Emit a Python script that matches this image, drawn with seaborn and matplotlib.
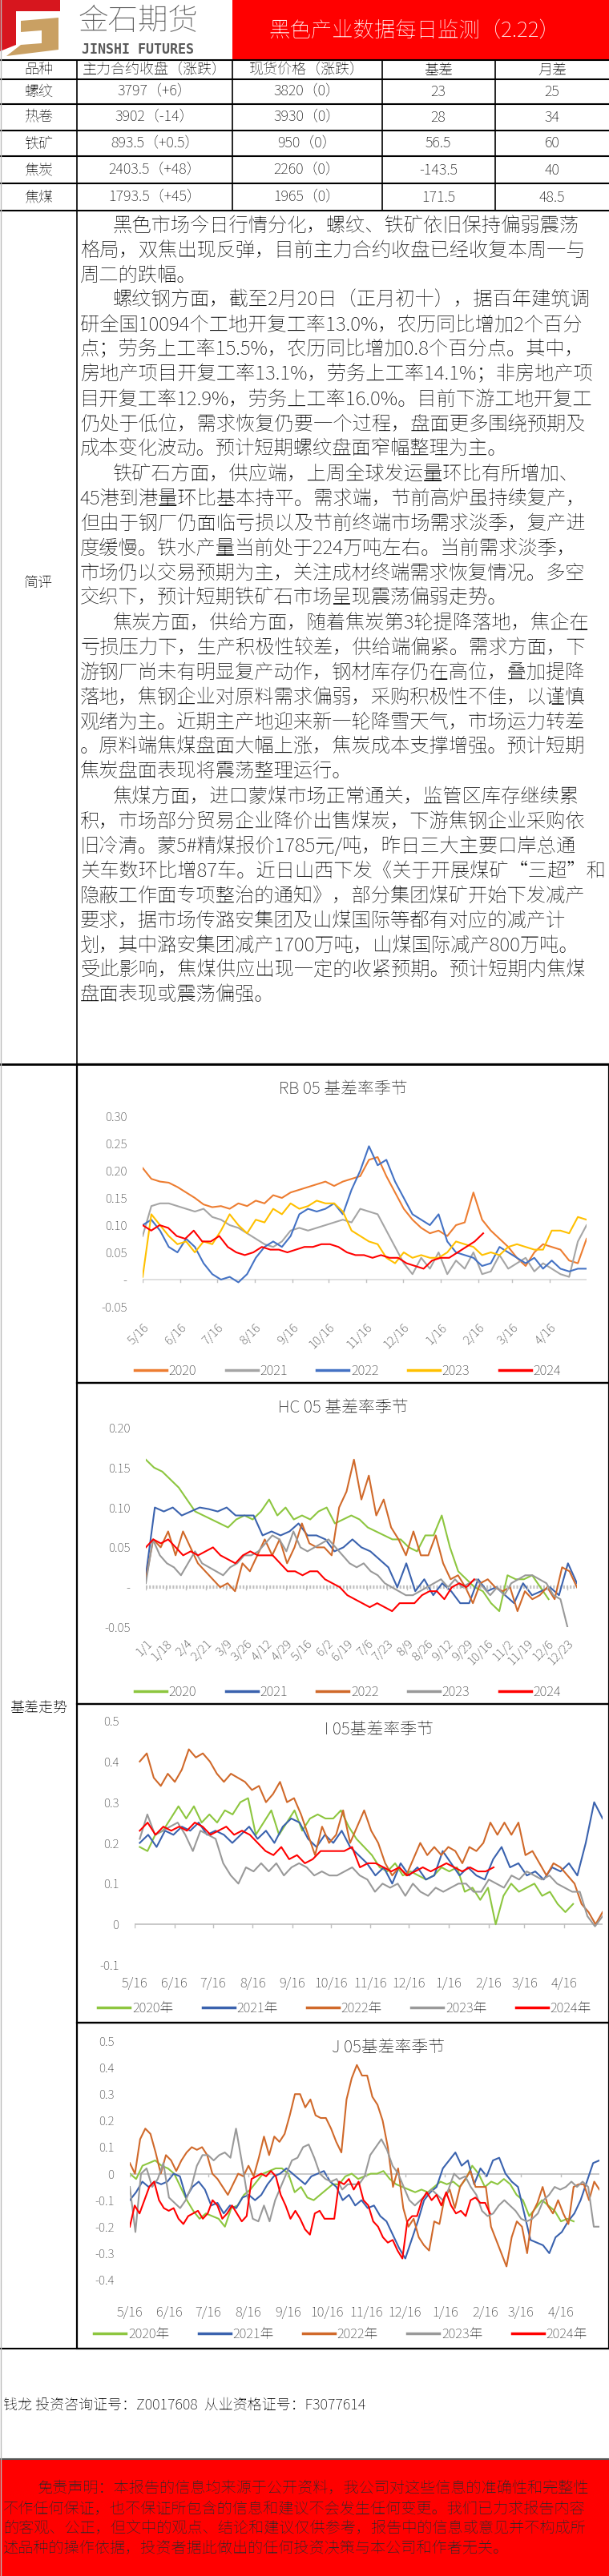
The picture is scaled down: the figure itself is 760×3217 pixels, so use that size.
import numpy as np
import pandas as pd
import matplotlib
matplotlib.use("Agg")
import matplotlib.pyplot as plt
from matplotlib import font_manager
from matplotlib.lines import Line2D
from matplotlib.patches import Rectangle, Polygon
import seaborn as sns

# подобрать шрифт с китайскими иероглифами
_names = {f.name for f in font_manager.fontManager.ttflist}
_cjk = [n for n in ["Noto Sans CJK SC", "Noto Sans SC", "Noto Sans CJK JP", "Noto Sans CJK TC",
                    "Noto Sans CJK KR"] if n in _names]
_cjk += sorted(n for n in _names if "CJK" in n and n not in _cjk)
plt.rcParams["font.family"] = _cjk[:1] + ["DejaVu Sans"]
plt.rcParams["axes.unicode_minus"] = False

# ---------------- данные ----------------
title = "黑色产业数据每日监测（2.22）"
table_header = ["品种", "主力合约收盘（涨跌）", "现货价格（涨跌）", "基差", "月差"]
products = ["螺纹", "热卷", "铁矿", "焦炭", "焦煤"]
futures_close = ["3797（+6）", "3902（-14）", "893.5（+0.5）", "2403.5（+48）", "1793.5（+45）"]
spot_price = ["3820（0）", "3930（0）", "950（0）", "2260（0）", "1965（0）"]
basis = ["23", "28", "56.5", "-143.5", "171.5"]
month_spread = ["25", "34", "60", "40", "48.5"]

comment_lines = [
    (1, "黑色市场今日行情分化，螺纹、铁矿依旧保持偏弱震荡"),
    (0, "格局，双焦出现反弹，目前主力合约收盘已经收复本周一与"),
    (0, "周二的跌幅。"),
    (1, "螺纹钢方面，截至2月20日（正月初十），据百年建筑调"),
    (0, "研全国10094个工地开复工率13.0%，农历同比增加2个百分"),
    (0, "点；劳务上工率15.5%，农历同比增加0.8个百分点。其中，"),
    (0, "房地产项目开复工率13.1%，劳务上工率14.1%；非房地产项"),
    (0, "目开复工率12.9%，劳务上工率16.0%。目前下游工地开复工"),
    (0, "仍处于低位，需求恢复仍要一个过程，盘面更多围绕预期及"),
    (0, "成本变化波动。预计短期螺纹盘面窄幅整理为主。"),
    (1, "铁矿石方面，供应端，上周全球发运量环比有所增加、"),
    (0, "45港到港量环比基本持平。需求端，节前高炉虽持续复产，"),
    (0, "但由于钢厂仍面临亏损以及节前终端市场需求淡季，复产进"),
    (0, "度缓慢。铁水产量当前处于224万吨左右。当前需求淡季，"),
    (0, "市场仍以交易预期为主，关注成材终端需求恢复情况。多空"),
    (0, "交织下，预计短期铁矿石市场呈现震荡偏弱走势。"),
    (1, "焦炭方面，供给方面，随着焦炭第3轮提降落地，焦企在"),
    (0, "亏损压力下，生产积极性较差，供给端偏紧。需求方面，下"),
    (0, "游钢厂尚未有明显复产动作，钢材库存仍在高位，叠加提降"),
    (0, "落地，焦钢企业对原料需求偏弱，采购积极性不佳，以谨慎"),
    (0, "观绪为主。近期主产地迎来新一轮降雪天气，市场运力转差"),
    (0, "。原料端焦煤盘面大幅上涨，焦炭成本支撑增强。预计短期"),
    (0, "焦炭盘面表现将震荡整理运行。"),
    (1, "焦煤方面，进口蒙煤市场正常通关，监管区库存继续累"),
    (0, "积，市场部分贸易企业降价出售煤炭，下游焦钢企业采购依"),
    (0, "旧冷清。蒙5#精煤报价1785元/吨，昨日三大主要口岸总通"),
    (0, "关车数环比增87车。近日山西下发《关于开展煤矿“三超”和"),
    (0, "隐蔽工作面专项整治的通知》，部分集团煤矿开始下发减产"),
    (0, "要求，据市场传潞安集团及山煤国际等都有对应的减产计"),
    (0, "划，其中潞安集团减产1700万吨，山煤国际减产800万吨。"),
    (0, "受此影响，焦煤供应出现一定的收紧预期。预计短期内焦煤"),
    (0, "盘面表现或震荡偏强。"),
]

disclaimer_lines = [
    "免责声明：本报告的信息均来源于公开资料，我公司对这些信息的准确性和完整性",
    "不作任何保证，也不保证所包含的信息和建议不会发生任何变更。我们已力求报告内容",
    "的客观、公正，但文中的观点、结论和建议仅供参考，报告中的信息或意见并不构成所",
    "述品种的操作依据，投资者据此做出的任何投资决策与本公司和作者无关。",
]
author_line = "钱龙 投资咨询证号：Z0017608  从业资格证号：F3077614"

years = ["2020", "2021", "2022", "2023", "2024"]

# месячные метки (день от 5/16)
month_labels = ["5/16", "6/16", "7/16", "8/16", "9/16", "10/16", "11/16", "12/16",
                "1/16", "2/16", "3/16", "4/16"]
month_days = [0, 31, 61, 92, 123, 153, 184, 214, 245, 276, 304, 335]
hc_labels = ["1/1", "1/18", "2/4", "2/21", "3/9", "3/26", "4/12", "4/29", "5/16", "6/2",
             "6/19", "7/6", "7/23", "8/9", "8/26", "9/12", "9/29", "10/16", "11/2",
             "11/19", "12/6", "12/23"]
hc_days = list(range(0, 358, 17))

# RB 05 基差率
rb_2020 = [0.205, 0.185, 0.18, 0.178, 0.17, 0.16, 0.15, 0.138, 0.133, 0.135, 0.13, 0.14, 0.135,
           0.145, 0.14, 0.155, 0.15, 0.16, 0.165, 0.17, 0.175, 0.18, 0.172, 0.18, 0.185, 0.19,
           0.22, 0.225, 0.19, 0.16, 0.13, 0.11, 0.095, 0.085, 0.09, 0.08, 0.1, 0.105, 0.16, 0.11,
           0.09, 0.075, 0.06, 0.04, 0.025, 0.05, 0.065, 0.06, 0.055, 0.035, 0.03, 0.075]
rb_2021 = [0.08, 0.135, 0.14, 0.14, 0.135, 0.13, 0.125, 0.13, 0.115, 0.11, 0.1, 0.095, 0.085,
           0.075, 0.065, 0.06, 0.07, 0.09, 0.095, 0.09, 0.095, 0.1, 0.105, 0.11, 0.105, 0.13,
           0.125, 0.12, 0.09, 0.06, 0.03, 0.01, 0.04, 0.02, 0.05, 0.01, 0.035, 0.02, 0.05, 0.01,
           0.015, 0.045, 0.02, 0.03, 0.04, 0.015, 0.03, 0.02, 0.01, 0.005, 0.07, 0.1]
rb_2022 = [0.1, 0.11, 0.09, 0.06, 0.05, 0.075, 0.06, 0.03, 0.01, 0.0, 0.005, -0.005, 0.01, 0.04,
           0.06, 0.07, 0.06, 0.08, 0.12, 0.13, 0.125, 0.13, 0.14, 0.12, 0.165, 0.2, 0.245, 0.21,
           0.22, 0.18, 0.15, 0.12, 0.11, 0.1, 0.12, 0.07, 0.05, 0.045, 0.04, 0.025, 0.03, 0.06,
           0.05, 0.04, 0.03, 0.04, 0.02, 0.035, 0.02, 0.015, 0.02, 0.02]
rb_2023 = [0.005, 0.12, 0.1, 0.08, 0.065, 0.07, 0.05, 0.07, 0.065, 0.09, 0.12, 0.1, 0.085, 0.11,
           0.105, 0.13, 0.12, 0.14, 0.13, 0.135, 0.145, 0.14, 0.14, 0.125, 0.09, 0.08, 0.07,
           0.065, 0.04, 0.03, 0.05, 0.04, 0.045, 0.04, 0.04, 0.05, 0.07, 0.065, 0.06, 0.045,
           0.05, 0.045, 0.06, 0.065, 0.06, 0.055, 0.055, 0.09, 0.09, 0.085, 0.115, 0.11]
rb_2024 = [0.1, 0.09, 0.1, 0.095, 0.08, 0.075, 0.09, 0.07, 0.07, 0.08, 0.06, 0.05, 0.045, 0.05,
           0.06, 0.055, 0.055, 0.05, 0.055, 0.06, 0.06, 0.065, 0.065, 0.06, 0.05, 0.045, 0.045,
           0.04, 0.045, 0.04, 0.04, 0.03, 0.025, 0.02, 0.035, 0.04, 0.04, 0.05, 0.06, 0.07, 0.085]
rb_span = [(0, 365), (0, 365), (0, 365), (0, 365), (0, 280)]

# HC 05 基差率
hc_2020 = [0.16, 0.15, 0.145, 0.135, 0.125, 0.11, 0.095, 0.09, 0.085, 0.08, 0.075, 0.085, 0.09,
           0.085, 0.095, 0.11, 0.09, 0.1, 0.085, 0.09, 0.085, 0.095, 0.1, 0.08, 0.085, 0.09,
           0.085, 0.075, 0.07, 0.065, 0.06, 0.06, 0.05, 0.045, 0.065, 0.065, 0.09, 0.05, 0.02,
           0.01, 0.0, -0.005, -0.02, -0.03, 0.015, 0.01, 0.01, 0.015, 0.0, -0.015]
hc_2021 = [0.015, 0.1, 0.095, 0.1, 0.09, 0.095, 0.1, 0.098, 0.095, 0.1, 0.09, 0.09, 0.09, 0.065,
           0.07, 0.065, 0.07, 0.08, 0.065, 0.065, 0.06, 0.045, 0.05, 0.06, 0.05, 0.045, 0.035,
           0.025, 0.0, 0.03, -0.005, 0.01, -0.01, 0.005, -0.005, -0.02, -0.02, 0.01, -0.005, 0.0,
           -0.01, -0.02, 0.005, -0.01, -0.005, 0.0, -0.01, 0.03, 0.005]
hc_2022 = [0.01, 0.06, 0.05, 0.07, 0.04, 0.07, 0.05, 0.03, 0.02, 0.01, 0.0, 0.005, -0.005, 0.03,
           0.02, 0.04, 0.06, 0.04, 0.06, 0.03, 0.05, 0.08, 0.055, 0.05, 0.05, 0.04, 0.1, 0.12,
           0.16, 0.11, 0.14, 0.09, 0.11, 0.075, 0.06, 0.04, 0.07, 0.04, 0.04, 0.065, 0.03, 0.01,
           0.015, 0.0, -0.02, 0.005, 0.01, 0.0, -0.005, 0.0, -0.03, -0.005, -0.015, -0.01, 0.0,
           -0.015, 0.025, 0.02, 0.0]
hc_2023 = [0.005, 0.06, 0.04, 0.03, 0.025, 0.015, 0.03, 0.045, 0.03, 0.025, 0.02, 0.015, 0.025,
           0.03, 0.04, 0.04, 0.045, 0.055, 0.065, 0.06, 0.045, 0.07, 0.05, 0.045, 0.05, 0.055,
           0.06, 0.05, 0.04, 0.03, 0.025, 0.03, 0.02, 0.015, 0.005, 0.0, -0.005, -0.01, -0.01,
           -0.005, 0.0, 0.005, 0.01, 0.0, 0.01, 0.0, 0.005, 0.01, 0.0, -0.01, 0.0, -0.01, 0.005,
           0.01, 0.015, 0.015, 0.01, 0.005, -0.01, -0.015, -0.05]
hc_2024 = [0.05, 0.06, 0.055, 0.06, 0.05, 0.04, 0.045, 0.04, 0.045, 0.05, 0.04, 0.035, 0.03,
           0.04, 0.045, 0.04, 0.04, 0.04, 0.03, 0.02, 0.02, 0.015, 0.02, 0.02, 0.01, 0.005, 0.0,
           -0.01, -0.015, -0.02, -0.025, -0.02, -0.025, -0.03, -0.02, -0.02, -0.02, -0.01,
           -0.005, -0.005, -0.015, 0.0, 0.005, 0.0, 0.01]
hc_span = [(0, 341), (0, 365), (0, 365), (0, 357), (0, 278)]

# I 05 基差率
i_2020 = [0.19, 0.18, 0.22, 0.23, 0.26, 0.29, 0.26, 0.29, 0.25, 0.27, 0.25, 0.28, 0.27, 0.3,
          0.31, 0.22, 0.25, 0.28, 0.22, 0.25, 0.28, 0.23, 0.26, 0.27, 0.26, 0.26, 0.28, 0.24,
          0.21, 0.19, 0.17, 0.14, 0.13, 0.15, 0.12, 0.13, 0.12, 0.11, 0.12, 0.14, 0.13, 0.14,
          0.08, 0.09, 0.06, 0.09, 0.0, 0.07, 0.1, 0.08, 0.09, 0.1, 0.07, 0.08, 0.05, 0.03, 0.05]
i_2021 = [0.2, 0.22, 0.19, 0.23, 0.22, 0.24, 0.23, 0.25, 0.22, 0.23, 0.22, 0.2, 0.22, 0.24,
          0.21, 0.23, 0.2, 0.24, 0.26, 0.25, 0.21, 0.19, 0.22, 0.2, 0.23, 0.19, 0.17, 0.15,
          0.12, 0.14, 0.1, 0.15, 0.12, 0.14, 0.11, 0.12, 0.18, 0.15, 0.12, 0.14, 0.12, 0.11,
          0.16, 0.19, 0.14, 0.15, 0.12, 0.13, 0.11, 0.14, 0.13, 0.15, 0.12, 0.2, 0.3, 0.26]
i_2022 = [0.4, 0.42, 0.36, 0.34, 0.37, 0.35, 0.38, 0.43, 0.41, 0.42, 0.4, 0.37, 0.35, 0.37,
          0.36, 0.35, 0.33, 0.34, 0.3, 0.32, 0.35, 0.3, 0.31, 0.27, 0.22, 0.17, 0.24, 0.2, 0.22,
          0.28, 0.2, 0.24, 0.28, 0.23, 0.2, 0.15, 0.12, 0.14, 0.12, 0.16, 0.2, 0.17, 0.19,
          0.17, 0.19, 0.18, 0.15, 0.19, 0.18, 0.2, 0.25, 0.22, 0.25, 0.22, 0.25, 0.17, 0.18,
          0.15, 0.12, 0.15, 0.14, 0.12, 0.1, 0.05, 0.03, 0.0, 0.03]
i_2023 = [0.21, 0.27, 0.22, 0.23, 0.24, 0.25, 0.22, 0.18, 0.23, 0.22, 0.21, 0.15, 0.12, 0.1,
          0.14, 0.13, 0.15, 0.13, 0.15, 0.12, 0.14, 0.15, 0.14, 0.12, 0.13, 0.12, 0.12, 0.13,
          0.14, 0.12, 0.11, 0.08, 0.1, 0.09, 0.1, 0.07, 0.1, 0.08, 0.07, 0.09, 0.08, 0.09, 0.1,
          0.1, 0.08, 0.08, 0.11, 0.1, 0.09, 0.12, 0.11, 0.13, 0.12, 0.11, 0.12, 0.1, 0.09, 0.08,
          0.08, 0.02, -0.005, 0.02]
i_2024 = [0.23, 0.25, 0.22, 0.24, 0.23, 0.24, 0.23, 0.25, 0.24, 0.22, 0.23, 0.24, 0.22, 0.23,
          0.22, 0.2, 0.18, 0.17, 0.19, 0.16, 0.17, 0.15, 0.16, 0.18, 0.18, 0.18, 0.18, 0.19,
          0.14, 0.15, 0.15, 0.14, 0.13, 0.14, 0.12, 0.13, 0.14, 0.13, 0.14, 0.15, 0.14, 0.13,
          0.14, 0.13, 0.13, 0.14]
i_span = [(4, 342), (4, 365), (4, 365), (4, 365), (4, 280)]

# J 05 基差率
j_2020 = [0.0, -0.02, 0.03, 0.04, 0.05, 0.03, 0.02, 0.0, -0.05, -0.1, -0.14, -0.17, -0.15,
          -0.16, -0.17, -0.2, -0.13, -0.12, -0.08, -0.06, -0.03, 0.0, 0.01, 0.02, 0.02, 0.0,
          -0.07, -0.05, -0.09, -0.1, -0.08, -0.06, -0.04, -0.04, -0.01, 0.0, -0.02, -0.01, 0.0,
          0.0, 0.01, -0.02, -0.04, -0.05, -0.06, -0.07, -0.06, -0.07, -0.05, -0.03, -0.04,
          -0.03, -0.05, -0.02, 0.03, 0.0, -0.05, -0.03, -0.04, -0.02, -0.04, -0.08, -0.1,
          -0.16, -0.13, -0.1, -0.12, -0.14, -0.18, -0.17, -0.18]
j_2021 = [-0.1, -0.07, -0.03, -0.05, -0.03, -0.04, -0.03, 0.0, -0.01, -0.09, -0.05, -0.03,
          -0.06, -0.12, -0.11, -0.15, -0.12, -0.13, -0.09, -0.08, -0.1, -0.08, -0.04, -0.01,
          0.0, 0.02, 0.0, -0.02, -0.04, -0.01, 0.0, 0.01, -0.03, -0.05, -0.1, -0.08, -0.12,
          -0.1, -0.13, -0.12, -0.16, -0.18, -0.23, -0.28, -0.32, -0.25, -0.18, -0.1, -0.07,
          -0.05, 0.02, 0.05, 0.08, 0.03, 0.05, -0.04, 0.02, -0.01, 0.05, 0.06, 0.0, -0.03,
          -0.05, -0.15, -0.25, -0.26, -0.27, -0.3, -0.24, -0.22, -0.18, -0.15, -0.1, -0.03,
          0.04, 0.05]
j_2022 = [0.04, 0.0, 0.13, 0.17, 0.15, 0.08, 0.0, 0.07, 0.05, 0.01, 0.05, 0.08, 0.1, 0.09,
          0.1, 0.07, 0.0, -0.02, -0.05, -0.08, -0.04, 0.0, -0.01, 0.03, -0.01, 0.06, 0.14,
          0.07, 0.14, 0.12, 0.15, 0.22, 0.3, 0.3, 0.25, 0.28, 0.22, 0.21, 0.21, 0.17, 0.12,
          0.08, 0.28, 0.36, 0.41, 0.37, 0.37, 0.29, 0.26, 0.2, 0.1, -0.05, 0.02, -0.13, -0.2,
          -0.17, -0.24, -0.27, -0.29, -0.18, -0.19, -0.09, -0.06, -0.13, -0.05, -0.02, 0.01,
          -0.05, -0.05, -0.05, -0.2, -0.25, -0.3, -0.35, -0.24, -0.18, -0.2, -0.3, -0.15,
          -0.11, -0.05, -0.12, -0.15, -0.1, -0.15, -0.19, -0.05, -0.04, -0.04, -0.1, -0.03,
          -0.06]
j_2023 = [-0.05, -0.22, 0.0, 0.02, -0.05, -0.02, 0.04, -0.09, -0.11, -0.13, -0.1, -0.05,
          0.03, 0.07, 0.07, 0.05, 0.07, 0.08, 0.06, 0.17, 0.05, -0.08, -0.17, -0.18, -0.12,
          -0.18, -0.1, -0.05, 0.0, 0.05, 0.06, 0.1, 0.11, 0.06, 0.0, -0.02, -0.03, -0.02,
          -0.06, -0.04, -0.04, -0.04, -0.01, 0.07, 0.1, 0.13, 0.09, 0.03, 0.0, -0.05, -0.1,
          -0.12, -0.1, -0.08, -0.06, -0.08, -0.1, -0.06, 0.0, -0.02, -0.01, -0.05, -0.08,
          -0.14, -0.16, -0.15, -0.12, -0.1, -0.12, -0.14, -0.17, -0.18, -0.17, -0.15, -0.1,
          -0.08, -0.05, -0.06, -0.05, -0.03, -0.05, -0.03, -0.05, -0.2, -0.2]
j_2024 = [-0.2, -0.12, -0.15, -0.1, -0.05, -0.03, -0.1, -0.13, -0.14, -0.13, -0.17, -0.19,
          -0.16, -0.15, -0.14, -0.17, -0.15, -0.1, -0.12, -0.17, -0.15, -0.12, -0.15, -0.18,
          -0.16, -0.02, -0.01, 0.0, -0.01, 0.01, -0.01, -0.08, -0.12, -0.17, -0.14, -0.17,
          -0.21, -0.23, -0.15, -0.14, -0.17, -0.17, -0.17, -0.03, -0.04, -0.02, -0.06, -0.03,
          -0.1, -0.12, -0.18, -0.2, -0.24, -0.26, -0.25, -0.29, -0.32, -0.18, -0.16, -0.16,
          -0.1, -0.07, -0.1, -0.08, -0.12, -0.07, -0.12, -0.15, -0.14, -0.16, -0.1, -0.09,
          -0.11, -0.11, -0.15]
j_span = [(0, 345), (0, 365), (0, 365), (0, 365), (0, 280)]

RB_COLORS = ["#ED7D31", "#A5A5A5", "#4472C4", "#FFC000", "#FF0000"]
OTHER_COLORS = ["#8DC63F", "#3A62AE", "#D0692A", "#999999", "#FF0000"]

# ---------------- разметка в пикселях ----------------
W, H = 760, 3217
fig = plt.figure(figsize=(W / 100, H / 100), dpi=100)
fig.patch.set_facecolor("white")


def fy(y):
    return 1 - y / H


def hline(y, x0=0, x1=W, lw=1.2, color="black"):
    fig.add_artist(Line2D([x0 / W, x1 / W], [fy(y), fy(y)], transform=fig.transFigure,
                          color=color, lw=lw))


def vline(x, y0, y1, lw=1.2, color="black"):
    fig.add_artist(Line2D([x / W, x / W], [fy(y0), fy(y1)], transform=fig.transFigure,
                          color=color, lw=lw))


def prect(x0, y0, x1, y1, **kw):
    fig.add_artist(Rectangle((x0 / W, fy(y1)), (x1 - x0) / W, (y1 - y0) / H,
                             transform=fig.transFigure, **kw))


def ptext(x, y, s, **kw):
    fig.text(x / W, fy(y), s, **kw)


# шапка
prect(290, 0, W, 75, facecolor="#FF0000", edgecolor="none")
ptext(517, 38, title, color="white", fontsize=19, ha="center", va="center")
fig.add_artist(Polygon([(0, fy(0)), (75 / W, fy(0)), (75 / W, fy(14)), (20 / W, fy(14)),
                        (20 / W, fy(56)), (0, fy(64))], closed=True,
                       transform=fig.transFigure, facecolor="#D7161E", edgecolor="none"))
fig.add_artist(Polygon([(26 / W, fy(26)), (73 / W, fy(22)), (73 / W, fy(62)), (8 / W, fy(70)),
                        (26 / W, fy(56)), (52 / W, fy(54)), (52 / W, fy(38)), (26 / W, fy(40))],
                       closed=True, transform=fig.transFigure, facecolor="#C9A063",
                       edgecolor="none"))
ptext(172, 27, "金石期货", fontsize=27, fontweight="bold", color="#5A5A5A",
      ha="center", va="center")
ptext(172, 62, "JINSHI FUTURES", fontsize=12, fontweight="bold", color="#5A5A5A",
      ha="center", va="center", family="DejaVu Sans Mono")

# таблица
col_x = [48, 193, 383, 547, 689]
row_y = [87, 114, 146, 179, 212, 246]
rows = [table_header] + [list(r) for r in zip(products, futures_close, spot_price,
                                               basis, month_spread)]
for r, row in enumerate(rows):
    for c, val in enumerate(row):
        ptext(col_x[c], row_y[r], val, fontsize=13, ha="center", va="center", color="#111111")
for y in [75, 99, 130, 163, 195, 229, 263]:
    hline(y, lw=1.5)
for x in [290, 477, 618]:
    vline(x, 75, 263)
vline(96, 75, 2933)

# 简评
ptext(48, 728, "简评", fontsize=13, ha="center", va="center")
for i, (indent, line) in enumerate(comment_lines):
    ptext(141 if indent else 100, 282 + 31 * i, line, fontsize=17.5, ha="left",
          va="center", color="#111111")
hline(1329, lw=2)

ptext(48, 2132, "基差走势", fontsize=13, ha="center", va="center")


def series_frame(values_list, spans, labels):
    parts = []
    for vals, (s, e), lab in zip(values_list, spans, labels):
        parts.append(pd.DataFrame({"day": np.linspace(s, e, len(vals)), "val": vals,
                                   "year": lab}))
    return pd.concat(parts, ignore_index=True)


def make_chart(box, plot, ylims, df, colors, labels, title_txt, title_pos, yticks, yfmt,
               xticks, xlabels, rot, label_y, legend_y, legend_x, zero_style):
    bx0, by0, bx1, by1 = box
    prect(bx0, by0, bx1, by1, facecolor="none", edgecolor="black", lw=1.6)
    px0, py0, px1, py1 = plot
    ax = fig.add_axes([px0 / W, fy(py1), (px1 - px0) / W, (py1 - py0) / H])
    ax.set_facecolor("none")
    sns.lineplot(data=df, x="day", y="val", hue="year", palette=dict(zip(labels, colors)),
                 estimator=None, sort=False, lw=1.5, ax=ax, legend=False)
    ax.set_xlim(0, 365)
    ax.set_ylim(*ylims)
    for s in ax.spines.values():
        s.set_visible(False)
    ax.axhline(0, **zero_style, zorder=0)
    ax.set_yticks(yticks)
    ax.set_yticklabels([yfmt(v) for v in yticks], fontsize=11, color="#404040")
    ax.tick_params(axis="y", length=0, pad=14)
    ax.set_xticks(xticks)
    ax.set_xticklabels([])
    ax.tick_params(axis="x", length=0)
    ax.set_xlabel("")
    ax.set_ylabel("")
    tr = ax.get_xaxis_transform()
    for d in xticks:
        ax.plot([d, d], [0, -0.012 * (ylims[1] - ylims[0])], color="#BFBFBF", lw=1)
    for d, lab in zip(xticks, xlabels):
        yy = 1 - (label_y - py0) / (py1 - py0)
        ax.text(d, yy, lab, transform=tr, fontsize=11 if rot else 12, color="#404040",
                rotation=rot, ha="right" if rot else "center",
                va="top" if rot else "center", rotation_mode="anchor")
    ptext(title_pos[0], title_pos[1], title_txt, fontsize=15, ha="center", va="center",
          color="#262626")
    handles = [Line2D([], [], color=c, lw=2.5) for c in colors]
    fig.legend(handles, labels, loc="center", bbox_to_anchor=(legend_x / W, fy(legend_y)),
               ncol=5, frameon=False, fontsize=12, handlelength=2.4, columnspacing=2.2,
               handletextpad=0.15, labelcolor="#404040")
    return ax


fmt2 = lambda v: "-" if abs(v) < 1e-9 else f"{v:.2f}"
fmt1 = lambda v: "0" if abs(v) < 1e-9 else f"{v:.1f}"

rb_df = series_frame([rb_2020, rb_2021, rb_2022, rb_2023, rb_2024], rb_span, years)
make_chart((96, 1329, 760, 1727), (178, 1394, 732, 1632), (-0.05, 0.30), rb_df, RB_COLORS,
           years, "RB 05 基差率季节", (428, 1360),
           [-0.05, 0, 0.05, 0.10, 0.15, 0.20, 0.25, 0.30], fmt2,
           month_days, month_labels, 45, 1650, 1712, 434,
           dict(color="#D9D9D9", lw=1.2))

hc_df = series_frame([hc_2020, hc_2021, hc_2022, hc_2023, hc_2024], hc_span, years)
make_chart((96, 1727, 760, 2128), (182, 1783, 720, 2032), (-0.05, 0.20), hc_df, OTHER_COLORS,
           years, "HC 05 基差率季节", (428, 1758),
           [-0.05, 0, 0.05, 0.10, 0.15, 0.20], fmt2,
           hc_days, hc_labels, 45, 2045, 2113, 434,
           dict(color="#BFBFBF", lw=3, ls=(0, (0.5, 0.5))))

years_n = [y + "年" for y in years]
i_df = series_frame([i_2020, i_2021, i_2022, i_2023, i_2024], i_span, years_n)
make_chart((96, 2128, 760, 2526), (168, 2149, 752, 2454), (-0.1, 0.5), i_df, OTHER_COLORS,
           years_n, "I 05基差率季节", (473, 2160),
           [-0.1, 0, 0.1, 0.2, 0.3, 0.4, 0.5], fmt1,
           month_days, month_labels, 0, 2477, 2508, 430,
           dict(color="#BFBFBF", lw=1.2))

j_df = series_frame([j_2020, j_2021, j_2022, j_2023, j_2024], j_span, years_n)
make_chart((96, 2526, 760, 2933), (162, 2549, 748, 2847), (-0.4, 0.5), j_df, OTHER_COLORS,
           years_n, "J 05基差率季节", (485, 2557),
           [-0.4, -0.3, -0.2, -0.1, 0, 0.1, 0.2, 0.3, 0.4, 0.5], fmt1,
           month_days, month_labels, 0, 2888, 2915, 425,
           dict(color="#BFBFBF", lw=1.2))

hline(2933, lw=1.5)

# подвал
ptext(4, 3003, author_line, fontsize=13, fontweight="bold", ha="left", va="center")
prect(0, 3071, W, H, facecolor="#FF0000", edgecolor="none")
hline(3071, lw=1.5, color="#555555")
for i, line in enumerate(disclaimer_lines):
    ptext(47 if i == 0 else 4, 3108 + 25 * i, line, fontsize=13.8, ha="left", va="center",
          color="#2A2A2A")
vline(0.5, 0, H, lw=1, color="#BBBBBB")

fig.savefig("out.png", dpi=100)
